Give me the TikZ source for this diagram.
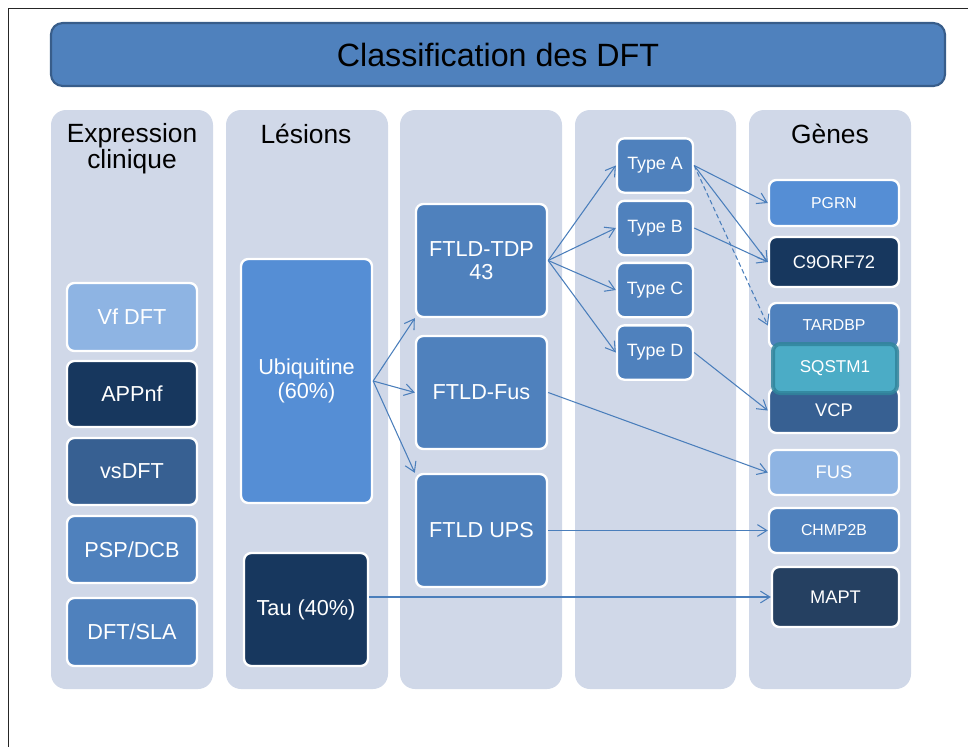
\documentclass[tikz,border=0pt]{standalone}
\usepackage{fontspec}
\setmainfont{Liberation Sans}
\usetikzlibrary{arrows.meta}
\definecolor{MyPanel}{HTML}{D0D8E8}
\definecolor{MyTitle}{HTML}{4F81BD}
\definecolor{MyTitleLine}{HTML}{385D8A}
\definecolor{MyLight}{HTML}{8EB4E3}
\definecolor{MyBright}{HTML}{558ED5}
\definecolor{MyMid}{HTML}{4F81BD}
\definecolor{MyDeep}{HTML}{376092}
\definecolor{MyNavy}{HTML}{17375E}
\definecolor{MyMapt}{HTML}{254061}
\definecolor{MyTeal}{HTML}{4BACC6}
\definecolor{MyTealLine}{HTML}{31859C}
\definecolor{MyArrow}{HTML}{4A7EBB}

\tikzset{
  panelbg/.style={fill=MyPanel, rounded corners=0.45cm},
  colhead/.style={anchor=north, inner sep=0pt, align=center, font=\fontsize{22.5}{22}\selectfont},
  cellbox/.style={draw=white, line width=2pt, rounded corners=0.22cm, text=white, inner sep=0pt, align=center},
  bigcell/.style={cellbox, font=\fontsize{18.5}{20}\selectfont},
  typecell/.style={cellbox, fill=MyMid, minimum width=2.28cm, minimum height=1.63cm, font=\fontsize{15.2}{17}\selectfont},
  genecell/.style={cellbox, minimum width=3.9cm, minimum height=1.35cm, font=\fontsize{13.5}{15}\selectfont},
  arrowlink/.style={MyArrow, line width=0.9pt, -{Straight Barb[length=8pt,width=10pt]}},
}

\begin{document}
\begin{tikzpicture}[x=0.03cm, y=-0.03cm]
\useasboundingbox (0,0) rectangle (968,747);
% slide frame
\draw[line width=0.8pt, black!85] (8,747) -- (8,8) -- (968,8);

\node[draw=MyTitleLine, fill=MyTitle, line width=1.8pt, rounded corners=0.35cm,
      minimum width=26.82cm, minimum height=1.89cm,
      font=\fontsize{27.5}{29}\selectfont] (title) at (498,54.5) {Classification des DFT};

% columns
\fill[panelbg] (51,110) rectangle (213,689);
\fill[panelbg] (226,110) rectangle (388,689);
\fill[panelbg] (400,110) rectangle (562,689);
\fill[panelbg] (575,110) rectangle (736,689);
\fill[panelbg] (749,110) rectangle (911,689);

\node[colhead] (hclin) at (132,123) {Expression\\clinique};
\node[colhead] (hles) at (306,124) {Lésions};
\node[colhead] (hgen) at (830,124) {Gènes};

% expression clinique
\node[bigcell, fill=MyLight, minimum width=3.9cm, minimum height=2.04cm] (vf) at (132,317) {Vf DFT};
\node[bigcell, fill=MyNavy, minimum width=3.9cm, minimum height=1.98cm] (appnf) at (132,394) {APPnf};
\node[bigcell, fill=MyDeep, minimum width=3.9cm, minimum height=2.01cm] (vsdft) at (132,471.5) {vsDFT};
\node[bigcell, fill=MyMid, minimum width=3.9cm, minimum height=2.01cm] (psp) at (132,549.5) {PSP/DCB};
\node[bigcell, fill=MyMid, minimum width=3.9cm, minimum height=2.04cm] (sla) at (132,632) {DFT/SLA};

% lesions
\node[bigcell, fill=MyBright, minimum width=3.93cm, minimum height=7.32cm] (ubi) at (306.5,381) {Ubiquitine\\(60\%)};
\node[bigcell, fill=MyNavy, minimum width=3.72cm, minimum height=3.39cm] (tau) at (306,609.5) {Tau (40\%)};

% FTLD
\node[bigcell, fill=MyMid, minimum width=3.93cm, minimum height=3.39cm] (tdp) at (481.5,260.5) {FTLD-TDP\\43};
\node[bigcell, fill=MyMid, minimum width=3.93cm, minimum height=3.39cm] (fusl) at (481.5,392.5) {FTLD-Fus};
\node[bigcell, fill=MyMid, minimum width=3.93cm, minimum height=3.39cm] (ups) at (481.5,530.5) {FTLD UPS};

% types
\node[typecell] (ta) at (655,165.5) {Type A};
\node[typecell] (tb) at (655,228) {Type B};
\node[typecell] (tc) at (655,290) {Type C};
\node[typecell] (td) at (655,352.5) {Type D};

% genes
\node[genecell, fill=MyBright, minimum height=1.38cm] (pgrn) at (834,203) {PGRN};
\node[genecell, fill=MyNavy, minimum height=1.5cm, font=\fontsize{15.6}{17}\selectfont] (c9) at (834,262) {C9ORF72};
\node[genecell, fill=MyMid] (tardbp) at (834,325.5) {TARDBP};
\node[genecell, fill=MyDeep, font=\fontsize{15.6}{17}\selectfont] (vcp) at (834,410.5) {VCP};
\node[cellbox, fill=MyTeal, draw=MyTealLine, draw opacity=0.85, line width=0.12cm,
      minimum width=3.72cm, minimum height=1.47cm, font=\fontsize{14.6}{16}\selectfont] (sqstm) at (835,368.5) {SQSTM1};
\node[genecell, fill=MyLight, font=\fontsize{15.6}{17}\selectfont] (fusg) at (834,472.5) {FUS};
\node[genecell, fill=MyMid] (chmp) at (834,530.5) {CHMP2B};
\node[genecell, fill=MyMapt, minimum width=3.81cm, minimum height=1.8cm, font=\fontsize{15.6}{17}\selectfont] (mapt) at (835.5,597) {MAPT};

% links
\draw[arrowlink] (ubi.east) -- (tdp.south west);
\draw[arrowlink] (ubi.east) -- (fusl.west);
\draw[arrowlink] (ubi.east) -- (ups.north west);
\draw[arrowlink] (tdp.east) -- (ta.west);
\draw[arrowlink] (tdp.east) -- (tb.west);
\draw[arrowlink] (tdp.east) -- (tc.west);
\draw[arrowlink] (tdp.east) -- (td.west);
\draw[arrowlink] (ta.east) -- (pgrn.west);
\draw[arrowlink] (ta.east) -- (c9.west);
\draw[arrowlink, dash pattern=on 4pt off 2.5pt] (ta.east) -- (tardbp.west);
\draw[arrowlink] (tb.east) -- (c9.west);
\draw[arrowlink] (td.east) -- (vcp.west);
\draw[arrowlink] (fusl.east) -- (fusg.west);
\draw[arrowlink] (ups.east) -- (chmp.west);
\draw[arrowlink] (tau.east |- mapt.west) -- (mapt.west);
\end{tikzpicture}
\end{document}
